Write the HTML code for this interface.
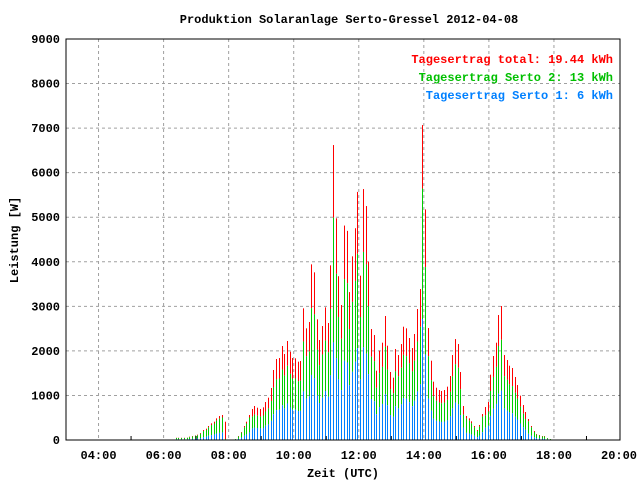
<!DOCTYPE html>
<html><head><meta charset="utf-8"><style>
html,body{margin:0;padding:0;background:#fff;}
svg{display:block;}
text{font-family:"Liberation Mono","DejaVu Sans Mono",monospace;font-weight:bold;}
</style></head><body>
<svg id="chart" width="640" height="480" viewBox="0 0 640 480" xmlns="http://www.w3.org/2000/svg">
<rect x="0" y="0" width="640" height="480" fill="#fff"/>
<text x="349" y="23" font-size="12" text-anchor="middle" fill="#000">Produktion Solaranlage Serto-Gressel 2012-04-08</text>
<g id="grid"></g>
<g id="bars"></g>
<rect x="66" y="39" width="554" height="401" fill="none" stroke="#000" stroke-width="1"/>
<g id="axes"></g>
<text x="18" y="240" font-size="12" text-anchor="middle" transform="rotate(-90 18 240)" fill="#000">Leistung [W]</text>
<text x="343" y="477" font-size="12" text-anchor="middle" fill="#000">Zeit (UTC)</text>
<text x="613" y="63" font-size="12" text-anchor="end" fill="#ff0000">Tagesertrag total: 19.44 kWh</text>
<text x="613" y="81" font-size="12" text-anchor="end" fill="#00c000">Tagesertrag Serto 2: 13 kWh</text>
<text x="613" y="99" font-size="12" text-anchor="end" fill="#0080ff">Tagesertrag Serto 1: 6 kWh</text>
</svg>
<script>
const startHour = 6.375;
const stepMinutes = 5;
const total = [50,50,50,50,55,75,90,105,120,157,224,254,314,374,411,486,538,561,411,0,0,0,20,90,180,314,411,561,696,763,725,696,733,853,950,1167,1571,1818,1840,2110,1930,2222,1982,1840,1833,1758,1773,2955,2506,2648,3942,3763,2708,2244,2558,2977,2626,3920,6620,4976,3676,3030,4813,4694,3320,4122,4753,5568,3688,5632,5251,4002,2491,2356,1556,2005,2184,2783,2117,1526,1399,2042,1907,2154,2543,2506,2289,2064,2379,2940,3388,7068,5176,2513,1780,1309,1174,1122,1100,1122,1197,1436,1907,2266,2154,1526,763,539,486,419,314,224,337,583,741,853,1466,1885,2184,2805,3007,1907,1795,1668,1616,1414,1234,995,785,628,471,314,202,135,112,90,90,45,22];
const serto1 = [15,15,15,15,15,20,25,30,35,45,65,75,95,110,125,145,160,170,0,0,0,0,5,25,55,95,125,170,260,280,270,260,270,320,350,430,580,670,680,780,710,820,730,680,680,650,655,1090,930,980,1460,1390,1000,830,950,1100,970,1450,2190,1840,1360,1120,1780,1740,1230,1530,1760,2060,1360,2080,1940,1480,920,870,580,740,810,1030,780,560,520,760,710,800,940,930,850,760,880,1090,1250,2715,1920,930,660,480,430,415,405,415,440,530,710,840,800,560,280,160,145,125,95,65,100,175,275,320,540,700,810,1040,1110,710,660,620,600,520,460,370,290,230,140,95,60,40,35,25,25,15,5];
const serto2 = [30,30,30,30,35,45,55,65,70,95,135,150,190,225,245,290,320,335,20,0,0,0,15,55,110,190,245,335,265,290,275,265,280,320,360,445,600,690,700,800,735,845,755,700,700,670,675,1120,950,1010,1500,1430,1030,850,970,1130,1000,1490,2800,1890,1400,1150,1830,1780,1260,1570,1810,2120,1400,2140,2000,1520,950,900,590,760,830,1060,800,580,530,780,720,820,970,950,870,780,900,1120,1290,2930,1960,950,680,500,450,425,420,425,460,550,720,860,820,580,290,320,290,250,190,135,200,350,280,320,560,715,830,1070,1140,720,690,630,610,540,470,380,300,240,280,190,120,80,65,55,55,25,15];
const yTicks = [0,1000,2000,3000,4000,5000,6000,7000,8000,9000];
const xTickLabels = ["04:00","06:00","08:00","10:00","12:00","14:00","16:00","18:00","20:00"];
const xTickHours = [4,6,8,10,12,14,16,18,20];

const NS = "http://www.w3.org/2000/svg";
const L = 66, R = 620, T = 39, B = 440;
function xOf(h){ return L + (h - 3) * 32.53; }
function yOf(v){ return B - v * (B - T) / 9000; }
function mk(tag, attrs, parent){ const e = document.createElementNS(NS, tag); for (const k in attrs) e.setAttribute(k, attrs[k]); parent.appendChild(e); return e; }

const grid = document.getElementById('grid');
const axes = document.getElementById('axes');
yTicks.forEach((v) => {
  const y = yOf(v);
  if (v > 0 && v < 9000) {
    const g = mk('line', {x1: L, x2: R, y1: y, y2: y, stroke: '#a0a0a0', 'stroke-dasharray': '3,3'}, grid);
    
    
  }
  const t = mk('text', {x: 60, y: y + 4, 'font-size': 12, 'text-anchor': 'end', fill: '#000'}, axes);
  t.textContent = String(v);
  
  
});
xTickHours.forEach((h, k) => {
  const x = xOf(h);
  if (h < 20) {
    const g = mk('line', {x1: x, x2: x, y1: T, y2: B, stroke: '#a0a0a0', 'stroke-dasharray': '3,3'}, grid);
    
    
  }
  const t = mk('text', {x: x, y: 459, 'font-size': 12, 'text-anchor': 'middle', fill: '#000'}, axes);
  t.textContent = xTickLabels[k];
  
  
});
for (let h = 5; h < 20; h += 2) {
  const x = xOf(h);
  const m = mk('line', {x1: x, x2: x, y1: B, y2: B - 4, stroke: '#000'}, axes);
  
  
}

const bars = document.getElementById('bars');
total.forEach((tv, i) => {
  const h = startHour + i * stepMinutes / 60;
  const x = Math.round(xOf(h));
  const s1 = serto1[i], s2 = serto1[i] + serto2[i];
  if (tv > s2) {
    const r = mk('rect', {x: x, y: yOf(tv), width: 1, height: yOf(s2) - yOf(tv), fill: '#ff0000'}, bars);
    
    
  }
  if (s2 > s1) {
    const g = mk('rect', {x: x, y: yOf(s2), width: 1, height: yOf(s1) - yOf(s2), fill: '#00cc00'}, bars);
    
    
  }
  if (s1 > 0) {
    const b = mk('rect', {x: x, y: yOf(s1), width: 1, height: B - yOf(s1), fill: '#0080ff'}, bars);
    
    
  }
});
</script>
</body></html>
